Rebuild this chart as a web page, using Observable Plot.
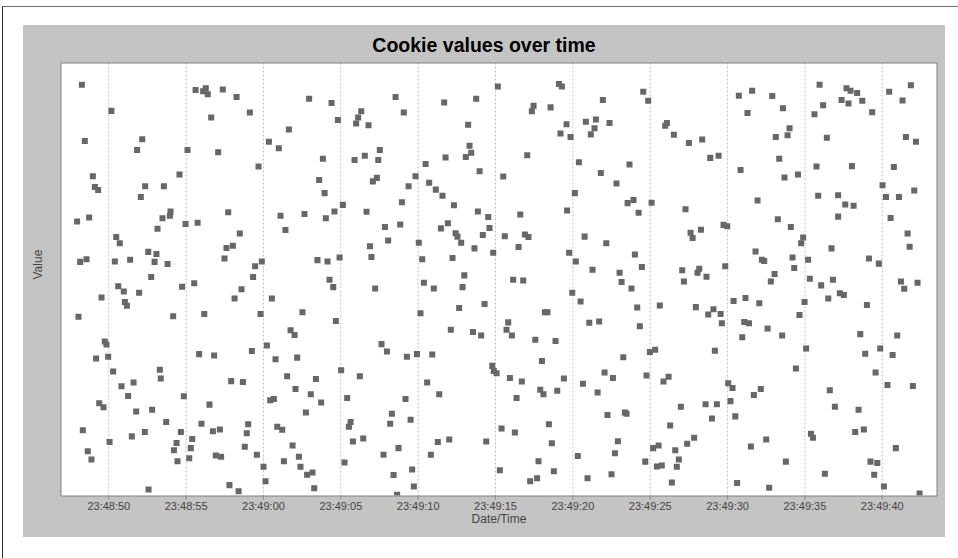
<!DOCTYPE html>
<html><head><meta charset="utf-8">
<script src="https://cdn.jsdelivr.net/npm/d3@7"></script>
<script src="https://cdn.jsdelivr.net/npm/@observablehq/plot@0.6"></script>
<style>
html,body{margin:0;padding:0;background:#fff;}
#wrap{position:relative;width:958px;height:558px;overflow:hidden;font-family:"Liberation Sans",Arial,sans-serif;}
#frame{position:absolute;left:2px;top:6px;width:956px;height:552px;border-top:1px solid #6e6e6e;border-left:1px solid #333;}
#panel{position:absolute;left:23px;top:25px;width:922px;height:512px;background:#c4c4c4;}
#title{position:absolute;left:23px;width:922px;top:34px;text-align:center;font-weight:bold;font-size:19.5px;line-height:22px;color:#000;}
#chart{position:absolute;left:0;top:0;}
</style></head>
<body>
<div id="wrap"><div id="frame"></div><div id="panel"></div><div id="title"></div><div id="chart"></div></div>
<script>
const title = "Cookie values over time";
const xLabel = "Date/Time";
const yLabel = "Value";
const startTime = "23:48:50";
const tickLabels = ["23:48:50","23:48:55","23:49:00","23:49:05","23:49:10","23:49:15","23:49:20","23:49:25","23:49:30","23:49:35","23:49:40"];

// seconds after startTime
const secs = [
-1.74,0.17,-1.55,2.16,1.83,5.09,5.61,-1.03,-0.90,-0.69,2.35,2.07,3.56,4.57,-2.05,-1.27,3.99,3.95,3.47,3.15,4.96,5.74,0.48,0.71,-1.85,-1.44,0.39,1.38,2.55,3.08,2.96,3.80,2.74,0.61,0.97,1.96,4.74,5.52,-0.47,1.04,1.17,-1.96,4.16,-0.26,-0.15,-0.82,-0.04,0.28,3.30,3.36,5.84,0.82,1.60,1.25,4.85,-0.62,-0.34,1.77,2.80,3.71,-1.68,2.33,4.66,0.05,1.49,4.38,5.39,-1.36,-1.12,4.21,5.30,4.44,5.20,2.57,
6.10,6.27,6.40,7.37,8.26,6.62,9.12,12.95,14.40,14.81,11.64,10.35,10.99,7.07,9.68,13.84,13.60,13.95,15.13,14.59,14.03,7.72,11.10,12.65,11.42,8.47,7.61,8.02,7.48,9.46,9.89,9.33,13.49,14.14,14.92,14.27,14.51,8.58,8.13,10.54,6.17,9.81,12.52,14.68,11.75,12.01,10.22,9.25,6.81,10.78,12.18,15.02,7.91,8.67,11.53,13.39,12.07,13.06,13.73,6.51,10.43,10.67,12.74,5.99,9.01,6.73,7.18,8.92,10.89,11.21,8.79,11.88,6.92,7.26,9.57,12.29,10.00,11.32,12.39,12.82,13.17,15.24,7.80,8.39,10.13,13.28,
18.54,19.07,16.32,16.12,15.99,16.79,21.68,23.75,23.23,23.32,23.43,23.08,21.77,17.52,16.55,17.42,15.89,20.48,23.97,19.83,17.33,17.07,19.38,20.71,21.14,21.57,18.95,22.31,16.66,23.86,24.53,17.85,18.84,21.92,21.47,22.42,22.54,22.78,24.61,24.18,18.06,20.04,23.64,16.88,16.98,20.26,22.22,22.98,22.87,20.37,21.01,17.22,22.65,24.29,20.15,22.11,23.54,24.07,17.63,17.98,19.27,19.92,20.91,16.23,20.58,21.36,15.41,19.18,18.30,18.19,19.51,15.63,15.52,15.78,16.45,21.27,22.01,24.40,18.73,17.76,20.82,18.41,19.61,19.72,18.64,
25.15,29.10,29.29,27.46,27.35,28.56,31.94,29.59,29.20,29.85,30.84,31.49,31.40,31.16,32.37,27.05,25.50,30.39,31.81,33.66,32.82,30.13,33.54,33.92,29.63,26.60,25.60,26.90,27.13,26.49,30.76,32.16,24.85,29.76,30.19,34.01,31.27,33.02,33.15,33.79,26.14,26.79,29.96,30.50,28.19,28.36,25.82,25.71,26.06,31.06,31.70,27.57,28.88,28.00,33.26,24.79,24.89,25.07,25.93,26.70,29.42,32.05,32.59,30.65,27.89,28.10,28.99,31.60,26.36,32.24,33.36,33.47,25.39,26.25,28.45,28.64,32.91,32.72,30.32,27.78,25.28,28.77,27.24,27.69,30.95,32.50,
34.55,34.87,35.97,36.08,36.53,37.50,38.36,38.88,39.42,40.73,41.59,42.89,41.29,43.12,43.34,40.84,35.09,34.25,37.28,41.94,43.25,37.61,37.74,38.28,39.74,39.98,34.46,37.07,37.18,38.06,38.17,38.64,39.85,41.81,42.22,42.37,43.04,42.80,34.16,35.62,37.95,38.75,39.09,39.55,39.63,40.39,41.16,42.05,34.33,41.08,41.38,42.59,40.95,34.98,35.32,39.18,34.76,35.86,36.19,40.04,40.32,41.70,42.15,36.98,38.58,39.31,40.19,38.99,40.50,36.29,35.19,35.54,37.39,37.84,36.62,41.51,42.50,34.68,35.43,35.75,36.85,36.72,36.40,40.62,42.69,
43.58,45.95,46.18,45.62,47.37,47.69,47.95,48.38,47.82,48.71,49.35,50.45,51.85,51.31,44.01,43.88,46.42,51.53,52.18,43.68,44.55,45.75,48.04,50.75,50.02,52.07,45.86,47.15,47.61,48.15,50.24,51.08,47.15,50.54,44.09,44.89,44.76,46.72,51.64,51.77,44.20,44.31,45.21,49.14,49.78,45.32,46.05,46.81,47.26,47.52,46.51,51.21,51.42,52.28,44.98,49.01,44.65,43.53,48.58,50.97,45.08,48.90,49.87,50.67,44.42,49.57,46.61,50.34,51.98,46.94,48.47,45.39,45.52,48.25,48.81,50.88,43.77,49.24,49.68,46.29,49.48,50.11,52.41
];

const vals = [
94.5,88.5,81.6,82.0,79.5,79.5,93.3,73.5,71.0,70.3,71.2,68.7,71.2,73.9,63.1,64.0,65.4,64.4,63.8,61.4,62.5,62.8,59.5,58.1,53.8,54.4,53.9,54.3,56.1,55.6,53.8,53.3,50.3,48.2,47.0,46.7,48.1,48.9,45.6,44.6,43.7,41.2,41.3,35.5,34.8,31.6,32.0,28.6,29.0,27.0,32.6,25.2,26.1,23.0,22.9,21.3,20.4,19.4,19.8,17.0,15.1,14.7,14.7,12.4,13.7,12.2,13.1,10.3,8.4,10.5,11.0,8.0,8.7,1.5,
93.0,93.7,92.3,93.4,91.7,87.0,88.1,91.3,90.3,86.4,84.2,81.4,79.9,79.0,75.7,77.5,72.6,69.6,66.9,65.4,63.8,65.2,64.4,64.8,61.1,60.3,57.0,57.5,54.6,52.8,53.9,50.3,54.2,53.9,54.8,49.7,48.0,47.5,45.4,45.4,41.8,41.8,42.2,40.2,38.1,37.0,34.6,33.3,32.3,31.4,31.8,28.9,26.4,26.2,27.5,26.9,24.6,23.4,21.5,21.0,22.0,22.3,19.2,16.6,16.5,14.9,15.3,14.4,15.9,15.2,11.3,11.6,9.3,9.0,9.5,9.0,6.7,8.0,6.7,4.9,5.4,7.7,2.5,1.1,3.4,1.8,
91.7,88.1,88.4,87.0,85.6,85.2,90.4,91.3,85.3,80.5,78.9,77.9,77.8,79.5,78.2,77.2,77.2,76.3,74.6,73.5,73.1,72.3,71.2,72.0,70.4,69.0,67.5,66.8,65.3,65.4,64.1,61.8,62.4,62.7,61.5,60.4,59.6,58.2,61.6,60.0,58.7,58.2,56.9,57.4,54.9,54.4,54.7,50.7,48.0,49.0,47.7,47.7,43.2,44.1,42.0,38.2,37.7,36.9,34.9,33.2,32.0,32.6,32.5,27.5,26.1,23.4,22.5,22.3,18.9,16.6,17.5,17.0,15.9,12.5,13.2,12.4,13.0,12.5,11.0,9.5,9.5,4.8,6.1,2.2,0.3,
94.1,94.7,94.1,89.7,88.4,89.3,91.0,85.4,83.3,82.5,86.0,86.5,84.5,83.1,85.7,78.3,73.4,76.7,74.2,76.2,71.8,69.6,67.3,68.0,65.6,64.7,59.7,60.1,59.5,57.2,59.6,58.1,55.9,55.9,53.9,55.5,52.0,51.3,49.2,47.7,49.7,49.5,46.7,44.7,42.2,42.2,39.9,38.2,36.9,39.8,40.1,35.9,35.6,31.0,31.9,29.9,28.7,28.2,27.1,26.3,27.0,28.4,27.1,25.8,24.4,23.4,24.2,23.8,22.5,18.6,19.2,18.9,15.5,14.6,16.5,12.1,12.6,9.8,9.2,8.0,5.9,5.7,3.4,4.1,4.1,5.0,
92.9,90.8,85.1,85.7,83.0,81.1,81.9,77.7,78.2,92.0,93.1,91.9,88.0,82.5,77.5,74.9,67.4,65.1,65.9,67.9,63.6,60.5,59.3,61.2,62.3,62.0,52.6,51.9,49.3,51.3,52.2,50.4,52.8,56.2,54.3,54.0,51.0,49.3,43.3,43.8,43.4,41.7,42.9,41.8,39.7,44.8,45.5,44.3,39.0,40.0,39.7,38.5,36.5,33.1,33.6,33.4,27.7,26.3,27.4,25.9,24.8,23.2,24.6,20.5,21.1,21.1,21.8,17.8,18.3,16.2,11.0,11.6,12.0,13.4,10.5,11.4,13.0,7.9,6.8,7.0,8.4,6.7,3.1,3.0,1.9,
89.1,94.5,89.8,87.7,91.0,93.7,93.1,92.6,90.2,90.8,88.2,92.9,94.4,90.9,84.5,82.9,82.3,82.5,81.4,73.2,73.9,75.7,75.8,75.6,71.4,70.2,69.0,69.1,67.0,66.7,68.7,68.7,64.2,63.9,61.8,59.4,58.1,56.9,60.3,57.3,54.8,52.4,54.3,54.6,53.4,49.9,48.4,49.7,46.6,46.2,45.4,49.3,47.6,49.0,44.6,43.9,41.6,36.9,37.2,36.9,33.9,32.7,33.9,32.4,29.3,28.4,24.3,25.5,25.3,20.5,19.8,14.3,13.4,14.7,15.3,11.0,7.9,7.9,7.6,5.1,4.9,2.2,0.6
];

document.getElementById("title").textContent = title;
const parse = d3.utcParse("%H:%M:%S");
const t0 = parse(startTime);
const toDate = s => new Date(+t0 + s * 1000);
const points = secs.map((s, i) => ({time: toDate(s), value: vals[i]}));
const tickDates = tickLabels.map(parse);
const font = "Liberation Sans, Arial, sans-serif";

const chart = Plot.plot({
  width: 958, height: 558,
  marginLeft: 60.5, marginRight: 21.5, marginTop: 62.5, marginBottom: 62.5,
  style: {background: "transparent", fontFamily: font, fontSize: "11px", overflow: "visible"},
  x: {type: "utc", domain: [toDate(-3.09), toDate(53.54)], axis: null, label: null},
  y: {domain: [0, 99.5], axis: null, label: null},
  marks: [
    Plot.frame({fill: "white", stroke: null}),
    Plot.gridX(tickDates, {stroke: "#c0c0c0", strokeOpacity: 1, strokeDasharray: "2,2"}),
    Plot.dot(points, {x: "time", y: "value", symbol: "square", r: 3.4, fill: "#676767", stroke: null, clip: true}),
    Plot.frame({stroke: "#808080", strokeOpacity: 1}),
    Plot.axisX(tickDates, {tickFormat: d3.utcFormat("%H:%M:%S"), tickSize: 4, tickPadding: 2, color: "#444", stroke: "#888", fontSize: 11, label: null}),
    Plot.text([xLabel], {frameAnchor: "bottom", dy: 27, fontSize: 12, fill: "#444"}),
    Plot.text([yLabel], {frameAnchor: "left", dx: -22.5, rotate: -90, fontSize: 12, fill: "#444"})
  ]
});
document.getElementById("chart").appendChild(chart);
</script>
</body></html>
